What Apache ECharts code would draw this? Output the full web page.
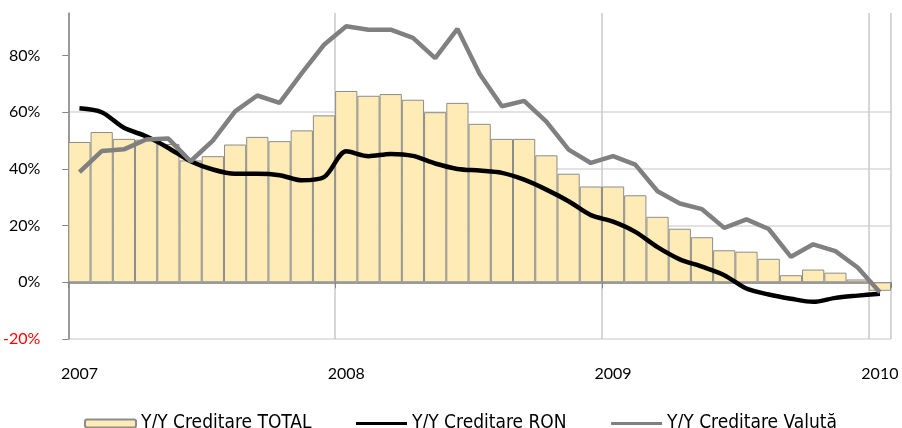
<!DOCTYPE html>
<html>
<head>
<meta charset="utf-8">
<script src="https://cdn.jsdelivr.net/npm/echarts@6/dist/echarts.min.js"></script>
<style>
  html, body { margin: 0; padding: 0; background: #fff; }
  #chart { width: 902px; height: 428px; }
</style>
</head>
<body>
<div id="chart"></div>
<script>
// luni ian 2007 - ian 2010
var months = [
  '2007-01','2007-02','2007-03','2007-04','2007-05','2007-06','2007-07','2007-08','2007-09','2007-10','2007-11','2007-12',
  '2008-01','2008-02','2008-03','2008-04','2008-05','2008-06','2008-07','2008-08','2008-09','2008-10','2008-11','2008-12',
  '2009-01','2009-02','2009-03','2009-04','2009-05','2009-06','2009-07','2009-08','2009-09','2009-10','2009-11','2009-12',
  '2010-01'
];
var yTicks = [-20, 0, 20, 40, 60, 80];

var creditTotal = [49.5, 53.0, 50.6, 50.3, 48.8, 43.0, 44.5, 48.6, 51.3, 49.8, 53.6, 58.9,
  67.5, 65.8, 66.4, 64.4, 60.0, 63.3, 55.9, 50.6, 50.6, 44.8, 38.3, 33.8,
  33.8, 30.7, 23.1, 18.9, 15.9, 11.3, 10.8, 8.3, 2.5, 4.5, 3.4, 1.0,
  -3.0];
var creditRon = [61.4, 60.0, 54.5, 51.5, 47.4, 42.7, 39.8, 38.3, 38.3, 37.8, 36.0, 37.1,
  46.2, 44.5, 45.3, 44.6, 41.9, 40.0, 39.4, 38.6, 36.2, 32.7, 28.6, 23.7,
  21.4, 17.8, 12.4, 8.1, 5.5, 2.5, -2.2, -4.3, -5.8, -6.9, -5.5, -4.7,
  -4.0];
var creditValuta = [38.9, 46.3, 46.9, 50.4, 50.7, 42.7, 50.0, 60.3, 65.9, 63.3, 73.8, 83.8,
  90.3, 89.1, 89.1, 86.2, 79.1, 89.4, 73.5, 62.1, 64.0, 56.7, 46.8, 42.1,
  44.5, 41.5, 32.1, 27.8, 25.8, 19.2, 22.2, 18.8, 9.0, 13.4, 11.0, 5.2,
  -3.5];

var myChart = echarts.init(document.getElementById('chart'));

// doar ianuarie primeste eticheta / linie
function isYear(idx){ return idx % 12 === 0; }

// fara cerc in legenda pentru linii
var noDot = { color: 'transparent', borderColor: 'transparent', borderWidth: 0, opacity: 0 };

var option = {
  animation: false,
  grid: { left: 68, right: 11, top: 13, bottom: 89 },
  legend: {
    left: 79,
    top: 409,
    itemWidth: 51,
    itemHeight: 8,
    itemGap: 43,
    textStyle: { fontFamily: 'DejaVu Sans Condensed, DejaVu Sans', fontSize: 19, color: '#000' },
    data: [
      { name: 'Y/Y Creditare TOTAL' },
      { name: 'Y/Y Creditare RON', itemStyle: noDot, lineStyle: { width: 3 } },
      { name: 'Y/Y Creditare Valută', itemStyle: noDot, lineStyle: { width: 3 } }
    ]
  },
  xAxis: [{
    type: 'category',
    data: months,
    position: 'bottom',
    axisLine: { show: false, onZero: false },
    axisTick: { show: false },
    axisLabel: {
      interval: function(idx){ return isYear(idx); },
      formatter: function(v){ return v.slice(0, 4); },
      margin: 27,
      fontFamily: 'Lato',
      fontSize: 16,
      color: '#000'
    },
    splitLine: {
      show: true,
      interval: function(idx){ return isYear(idx); },
      lineStyle: { color: '#c8c8c8', width: 1.5 }
    }
  }, {
    type: 'category',
    data: months,
    position: 'bottom',
    axisLine: { show: true, onZero: true, lineStyle: { color: '#868686', width: 1.5 } },
    axisTick: { show: true, interval: function(idx){ return isYear(idx); }, length: 6, lineStyle: { color: '#868686' } },
    axisLabel: { show: false },
    splitLine: { show: false }
  }],
  yAxis: {
    type: 'value',
    min: -20,
    max: 95,
    interval: 20,
    axisLine: { show: true, lineStyle: { color: '#868686', width: 1.5 } },
    axisTick: { show: true, length: 6, customValues: yTicks, lineStyle: { color: '#868686' } },
    axisLabel: {
      customValues: yTicks,
      margin: 28,
      fontFamily: 'Lato',
      fontSize: 16,
      formatter: function(v){ return v + '%'; },
      color: function(v){ return Number(v) < 0 ? '#ff0000' : '#000'; }
    },
    splitLine: { show: true, showMaxLine: false, lineStyle: { color: '#d9d9d9', width: 1.5 } }
  },
  series: [{
    name: 'Y/Y Creditare TOTAL',
    type: 'bar',
    data: creditTotal,
    barCategoryGap: '0%',
    itemStyle: { color: '#ffebb5', borderColor: '#8c8c8c', borderWidth: 1 }
  }, {
    name: 'Y/Y Creditare RON',
    type: 'line',
    data: creditRon,
    smooth: 0.3,
    symbol: 'none',
    lineStyle: { color: '#000', width: 4.5 },
    itemStyle: { color: '#000' }
  }, {
    name: 'Y/Y Creditare Valută',
    type: 'line',
    data: creditValuta,
    symbol: 'none',
    lineStyle: { color: '#808080', width: 4.5 },
    itemStyle: { color: '#808080' }
  }]
};
myChart.setOption(option);
</script>
</body>
</html>
